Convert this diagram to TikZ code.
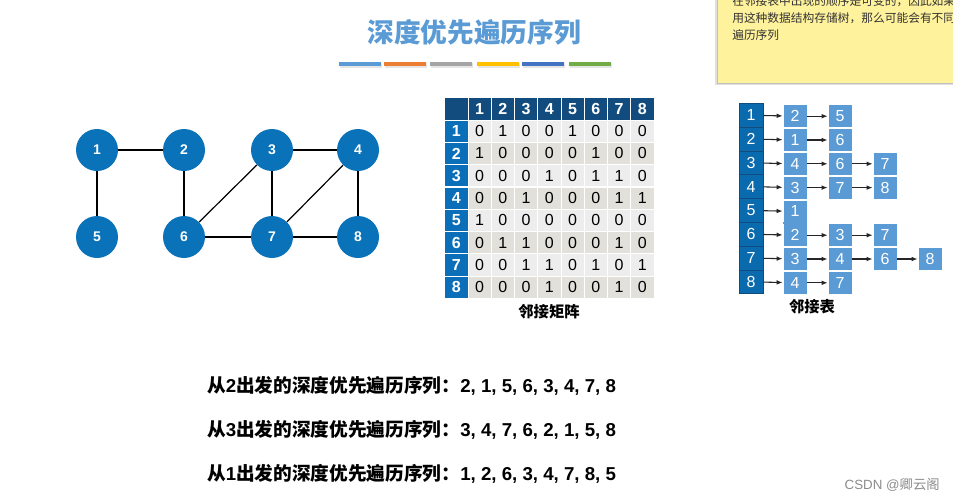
\documentclass[tikz,border=0pt]{standalone}
\usepackage{fontspec}
\setmainfont{Liberation Sans}
\newfontfamily\cjk{Noto Sans CJK SC}
\usetikzlibrary{arrows.meta, positioning, calc}
\newcommand{\zhtxt}[1]{{\cjk #1}}
\definecolor{titleblue}{HTML}{5B9BD5}
\definecolor{nodeblue}{HTML}{0A72B8}
\definecolor{headnavy}{HTML}{124C7E}
\definecolor{headblue}{HTML}{0A6FB8}
\definecolor{cellA}{HTML}{EDEDED}
\definecolor{cellB}{HTML}{E1E0DA}
\definecolor{boxblue}{HTML}{5B9BD5}
\definecolor{listblue}{HTML}{0A6AAE}
\definecolor{notey}{HTML}{FFF29C}
\definecolor{barA}{HTML}{5B9BD5}
\definecolor{barB}{HTML}{ED7D31}
\definecolor{barC}{HTML}{A5A5A5}
\definecolor{barD}{HTML}{FFC000}
\definecolor{barE}{HTML}{4472C4}
\definecolor{barF}{HTML}{70AD47}

\begin{document}
\begin{tikzpicture}[x=0.75pt, y=-0.75pt,
  vert/.style={circle, fill=nodeblue, text=white, minimum size=31.5pt, inner sep=0pt, font=\bfseries\fontsize{10.5}{12}\selectfont},
  cell/.style={draw=white, line width=0.6pt, minimum width=17.4pt, minimum height=16.7pt, inner sep=0pt, font=\fontsize{12}{14}\selectfont},
  head/.style={cell, text=white, font=\bfseries\fontsize{12}{14}\selectfont},
  idx/.style={draw=headnavy, fill=listblue, text=white, minimum width=18pt, minimum height=17.85pt, inner sep=0pt, font=\fontsize{12}{14}\selectfont},
  box/.style={draw=white, line width=0.6pt, fill=boxblue, text=white, minimum width=18pt, minimum height=17pt, inner sep=0pt, font=\fontsize{12}{14}\selectfont},
  link/.style={-{Latex[length=4.5pt, width=3.5pt]}, line width=0.8pt, black!85},
  seq/.style={anchor=west, inner sep=0pt, font=\bfseries\fontsize{14}{16}\selectfont}
]
\useasboundingbox (0,0) rectangle (953,501);
\clip (0,0) rectangle (953,501);
\fill[white] (0,0) rectangle (953,501);

% Sticky note
\fill[black!12] (715,-10) rectangle (960,85);
\fill[notey, draw=black!25, line width=0.5pt] (717,-10) rectangle (960,83);
\foreach \y/\line [count=\i] in {1.5/在邻接表中出现的顺序是可变的，因此如果, 18/用这种数据结构存储树，那么可能会有不同, 35/遍历序列} {
   \node[anchor=west, inner sep=0pt, text=black!80, font=\cjk\fontsize{8.8}{10}\selectfont] (note\i) at (732, \y) {\line};
}

% Title
\node[text=titleblue, font=\cjk\bfseries\fontsize{20}{24}\selectfont] (title) at (474, 32) {深度优先遍历序列};
\foreach \x/\col in {339/barA, 384/barB, 430/barC, 477/barD, 522/barE, 569/barF} {
   \fill[black!10] (\x+0.5, 63) rectangle ++(42, 4.5);
   \fill[\col] (\x, 61.5) rectangle ++(42, 4.5);
}

% Graph
\foreach \n/\x/\y in {1/97/150, 2/184/150, 3/272/150, 4/358/150, 5/97/237, 6/184/237, 7/272/237, 8/358/237} {
   \node[vert] (g\n) at (\x, \y) {\n};
}
\foreach \a/\b in {1/2, 1/5, 2/6, 3/6, 3/4, 3/7, 4/7, 4/8, 6/7, 7/8} {
   \draw[line width=0.9pt] (g\a) -- (g\b);
}

% Adjacency matrix
\node[head, fill=headnavy] (m-0-0) at (456.4, 108.85) {};
\foreach \c in {1,...,8} {
   \node[head, fill=headnavy] (m-0-\c) at (456.4+23.25*\c, 108.85) {\c};
}
\foreach \r/\vals in {1/{0,1,0,0,1,0,0,0}, 2/{1,0,0,0,0,1,0,0}, 3/{0,0,0,1,0,1,1,0}, 4/{0,0,1,0,0,0,1,1},
                      5/{1,0,0,0,0,0,0,0}, 6/{0,1,1,0,0,0,1,0}, 7/{0,0,1,1,0,1,0,1}, 8/{0,0,0,1,0,0,1,0}} {
   \node[head, fill=headblue] (m-\r-0) at (456.4, 108.85+22.3*\r) {\r};
   \pgfmathsetmacro{\shade}{isodd(\r) ? 1 : 0}
   \foreach \v [count=\c] in \vals {
      \ifnum\shade=1 \def\cellcol{cellA}\else\def\cellcol{cellB}\fi
      \node[cell, fill=\cellcol] (m-\r-\c) at (456.4+23.25*\c, 108.85+22.3*\r) {\v};
   }
}
\node[font=\cjk\bfseries\fontsize{11.5}{13}\selectfont] (mcap) at (549, 312) {邻接矩阵};

% Adjacency list
\foreach \r/\vals in {1/{2,5}, 2/{1,6}, 3/{4,6,7}, 4/{3,7,8}, 5/{1}, 6/{2,3,7}, 7/{3,4,6,8}, 8/{4,7}} {
   \node[idx] (l-\r) at (751, 91.4+23.8*\r) {\r};
   \foreach \v [count=\c] in \vals {
      \node[box] (l-\r-\c) at (750+45*\c, 92.4+23.8*\r) {\v};
   }
   \draw[link] (l-\r) -- (l-\r-1);
   \foreach \v [count=\c from 0] in \vals {
      \ifnum\c>0 \pgfmathtruncatemacro{\nx}{\c+1}\draw[link] (l-\r-\c) -- (l-\r-\nx);\fi
   }
}
% rows 5 and 6 share one block
\fill[boxblue] ($(l-5-1.south west)+(0.6,-1)$) rectangle ($(l-6-1.north east)+(-0.6,1)$);
\node[font=\cjk\bfseries\fontsize{11.5}{13}\selectfont] (lcap) at (812, 307) {邻接表};

% Traversal orders
\node[seq] (s2) at (207, 386) {\zhtxt{从}2\zhtxt{出发的深度优先遍历序列：}2, 1, 5, 6, 3, 4, 7, 8};
\node[seq] (s3) at (207, 430) {\zhtxt{从}3\zhtxt{出发的深度优先遍历序列：}3, 4, 7, 6, 2, 1, 5, 8};
\node[seq] (s1) at (207, 474) {\zhtxt{从}1\zhtxt{出发的深度优先遍历序列：}1, 2, 6, 3, 4, 7, 8, 5};

\node[anchor=east, inner sep=0pt, text=black!45, font=\fontsize{10}{12}\selectfont] (mark) at (940, 485) {CSDN @\zhtxt{卿云阁}};
\end{tikzpicture}
\end{document}
